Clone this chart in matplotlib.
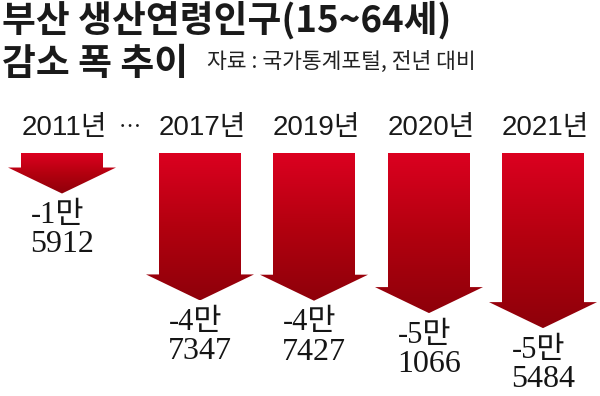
import matplotlib
matplotlib.use("Agg")
import matplotlib.pyplot as plt
from matplotlib.patches import Polygon
from matplotlib.colors import LinearSegmentedColormap
import numpy as np

# data: yearly decrease of Busan working-age population (15~64)
years = ['2011년', '2017년', '2019년', '2020년', '2021년']
decrease = [15912, 47347, 47427, 51066, 55484]
labels_top = ['-1만', '-4만', '-4만', '-5만', '-5만']
labels_bot = ['5912', '7347', '7427', '1066', '5484']

title1 = '부산 생산연령인구(15~64세)'
title2 = '감소 폭 추이'
source = '자료 : 국가통계포털, 전년 대비'

# layout (pixels on a 600x396 canvas)
xpos = [62, 200, 314, 429, 543]
upp = 294.0          # value units per pixel
top_val = -4000      # arrow shafts start here
shaft_half = 41
head_half = 54
head_len = 26 * upp

fig = plt.figure(figsize=(6, 3.96), dpi=100)
ax = fig.add_axes([0, 0, 1, 1])
ax.set_xlim(0, 600)
y_hi = top_val + 153 * upp
y_lo = top_val - 243 * upp
ax.set_ylim(y_lo, y_hi)
ax.axis('off')

cmap = LinearSegmentedColormap.from_list('redgrad', ['#dc0020', '#b3000f', '#8e000a'])
grad = np.linspace(0, 1, 256).reshape(-1, 1)

sans = ['Noto Sans CJK KR', 'DejaVu Sans']
arial = ['Liberation Sans', 'Noto Sans CJK KR']
serif = ['Liberation Serif', 'Noto Sans CJK KR']

for x, v, yr, lt, lb in zip(xpos, decrease, years, labels_top, labels_bot):
    tip = -v
    neck = tip + head_len
    pts = [(x - shaft_half, top_val), (x + shaft_half, top_val),
           (x + shaft_half, neck), (x + head_half, neck),
           (x, tip), (x - head_half, neck), (x - shaft_half, neck)]
    poly = Polygon(pts, closed=True, facecolor='none', edgecolor='none')
    ax.add_patch(poly)
    im = ax.imshow(grad, cmap=cmap, aspect='auto', interpolation='bilinear',
                   extent=[x - head_half, x + head_half, tip, top_val], zorder=2)
    im.set_clip_path(poly)

    ax.annotate(lt, xy=(x, tip), xytext=(-3, -16), textcoords='offset points',
                ha='center', va='center', fontsize=22, family=serif, color='#151515')
    ax.annotate(lb, xy=(x, tip), xytext=(0, -37), textcoords='offset points',
                ha='center', va='center', fontsize=23, family=serif, color='#151515')

    ax.text(x + 2, top_val + 25 * upp, yr, ha='center', va='center',
            fontsize=20, family=arial, color='#1a1a1a')

ax.text(130, top_val + 25 * upp, '…', ha='center', va='center',
        fontsize=16, family=sans, color='#1a1a1a')

fig.text(2 / 600, 1 - 20 / 396, title1, ha='left', va='center', fontsize=26.5,
         family=sans, fontweight='bold', color='#1a1a1a')
fig.text(2 / 600, 1 - 64 / 396, title2, ha='left', va='center', fontsize=26.5,
         family=sans, fontweight='bold', color='#1a1a1a')
fig.text(207 / 600, 1 - 62 / 396, source, ha='left', va='center', fontsize=15.5,
         family=sans, color='#222222')

fig.savefig('out.png', dpi=100, facecolor='white')
